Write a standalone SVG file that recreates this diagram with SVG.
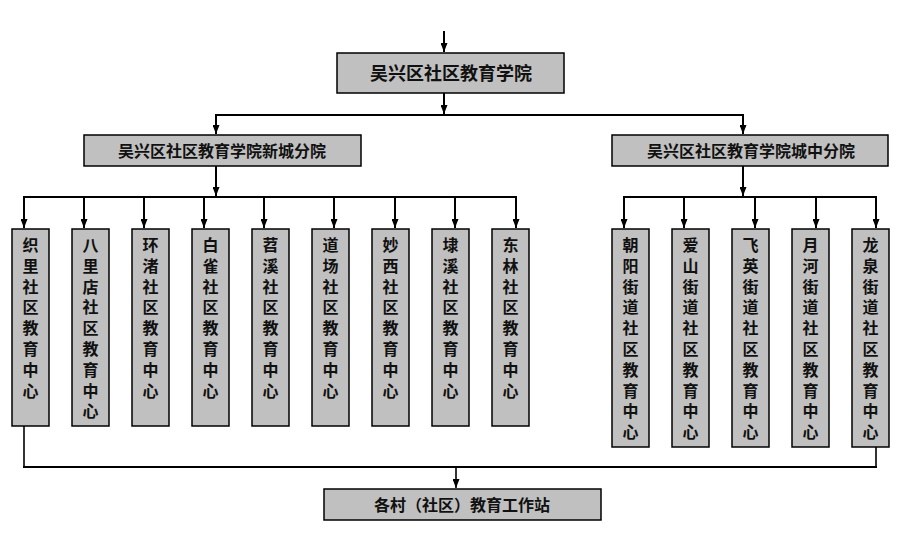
<svg xmlns="http://www.w3.org/2000/svg" width="924" height="541" viewBox="0 0 924 541">
<style>
.box{fill:#C0C0C0;stroke:#000;stroke-width:1.5}
.t{font-family:"Noto Sans CJK SC","Noto Sans CJK JP",sans-serif;font-weight:bold;fill:#111;text-anchor:middle}
.v{font-family:"Noto Sans CJK SC","Noto Sans CJK JP",sans-serif;font-weight:bold;fill:#111;font-size:16px;writing-mode:vertical-rl;text-orientation:upright;letter-spacing:4.8px;text-anchor:start}
.ln{fill:none;stroke:#000;stroke-width:2}
.ln2{fill:none;stroke:#000;stroke-width:1.6}
</style>
<defs>
<marker id="ah" markerUnits="userSpaceOnUse" viewBox="0 0 9 7" refX="9" refY="3.5" markerWidth="9" markerHeight="7" orient="auto">
<path d="M0,0 L9,3.5 L0,7 z" fill="#000"/>
</marker>
</defs>
<rect width="924" height="541" fill="#fff"/>
<g id="connectors">
<path class="ln" d="M444,31 V52" marker-end="url(#ah)"/>
<path class="ln" d="M444,93 V114" marker-end="url(#ah)"/>
<path class="ln" d="M215,115 H744"/>
<path class="ln" d="M216,115 V134" marker-end="url(#ah)"/>
<path class="ln" d="M743,115 V134" marker-end="url(#ah)"/>
<path class="ln" d="M216,166 V196" marker-end="url(#ah)"/>
<path class="ln" d="M743,166 V196" marker-end="url(#ah)"/>
<path class="ln" d="M23,197 H517"/>
<path class="ln" d="M24,197 V228" marker-end="url(#ah)"/>
<path class="ln" d="M84,197 V228" marker-end="url(#ah)"/>
<path class="ln" d="M144,197 V228" marker-end="url(#ah)"/>
<path class="ln" d="M204,197 V228" marker-end="url(#ah)"/>
<path class="ln" d="M264,197 V228" marker-end="url(#ah)"/>
<path class="ln" d="M334,197 V228" marker-end="url(#ah)"/>
<path class="ln" d="M395,197 V228" marker-end="url(#ah)"/>
<path class="ln" d="M455,197 V228" marker-end="url(#ah)"/>
<path class="ln" d="M516,197 V228" marker-end="url(#ah)"/>
<path class="ln" d="M623,197 H877"/>
<path class="ln" d="M624,197 V228" marker-end="url(#ah)"/>
<path class="ln" d="M684,197 V228" marker-end="url(#ah)"/>
<path class="ln" d="M755,197 V228" marker-end="url(#ah)"/>
<path class="ln" d="M816,197 V228" marker-end="url(#ah)"/>
<path class="ln" d="M876,197 V228" marker-end="url(#ah)"/>
<path class="ln2" d="M24,426 V467"/>
<path class="ln2" d="M876,447 V467"/>
<path class="ln" d="M23,467 H877"/>
<path class="ln2" d="M456,467 V488" marker-end="url(#ah)"/>
</g>
<g id="root"><rect class="box" x="337" y="53" width="227" height="40"/><text class="t" x="451" y="80" font-size="18">吴兴区社区教育学院</text></g>
<g id="xincheng"><rect class="box" x="84" y="135" width="277" height="31"/><text class="t" x="222" y="157" font-size="16">吴兴区社区教育学院新城分院</text></g>
<g id="chengzhong"><rect class="box" x="612" y="135" width="276" height="31"/><text class="t" x="751" y="157" font-size="16">吴兴区社区教育学院城中分院</text></g>
<g id="cun"><rect class="box" x="324" y="489" width="277" height="31"/><text class="t" x="462" y="511" font-size="16">各村（社区）教育工作站</text></g>
<g id="n1"><rect class="box" x="12" y="229" width="37" height="197"/><text class="v" x="30.5" y="237">织里社区教育中心</text></g>
<g id="n2"><rect class="box" x="72" y="229" width="37" height="197"/><text class="v" x="90.5" y="237">八里店社区教育中心</text></g>
<g id="n3"><rect class="box" x="132" y="229" width="37" height="197"/><text class="v" x="150.5" y="237">环渚社区教育中心</text></g>
<g id="n4"><rect class="box" x="192" y="229" width="37" height="197"/><text class="v" x="210.5" y="237">白雀社区教育中心</text></g>
<g id="n5"><rect class="box" x="252" y="229" width="37" height="197"/><text class="v" x="270.5" y="237">苕溪社区教育中心</text></g>
<g id="n6"><rect class="box" x="312" y="229" width="37" height="197"/><text class="v" x="330.5" y="237">道场社区教育中心</text></g>
<g id="n7"><rect class="box" x="372" y="229" width="37" height="197"/><text class="v" x="390.5" y="237">妙西社区教育中心</text></g>
<g id="n8"><rect class="box" x="432" y="229" width="37" height="197"/><text class="v" x="450.5" y="237">埭溪社区教育中心</text></g>
<g id="n9"><rect class="box" x="492" y="229" width="37" height="197"/><text class="v" x="510.5" y="237">东林社区教育中心</text></g>
<g id="m1"><rect class="box" x="612" y="229" width="37" height="218"/><text class="v" x="630.5" y="237">朝阳街道社区教育中心</text></g>
<g id="m2"><rect class="box" x="672" y="229" width="37" height="218"/><text class="v" x="690.5" y="237">爱山街道社区教育中心</text></g>
<g id="m3"><rect class="box" x="732" y="229" width="37" height="218"/><text class="v" x="750.5" y="237">飞英街道社区教育中心</text></g>
<g id="m4"><rect class="box" x="792" y="229" width="37" height="218"/><text class="v" x="810.5" y="237">月河街道社区教育中心</text></g>
<g id="m5"><rect class="box" x="852" y="229" width="37" height="218"/><text class="v" x="870.5" y="237">龙泉街道社区教育中心</text></g>
</svg>
